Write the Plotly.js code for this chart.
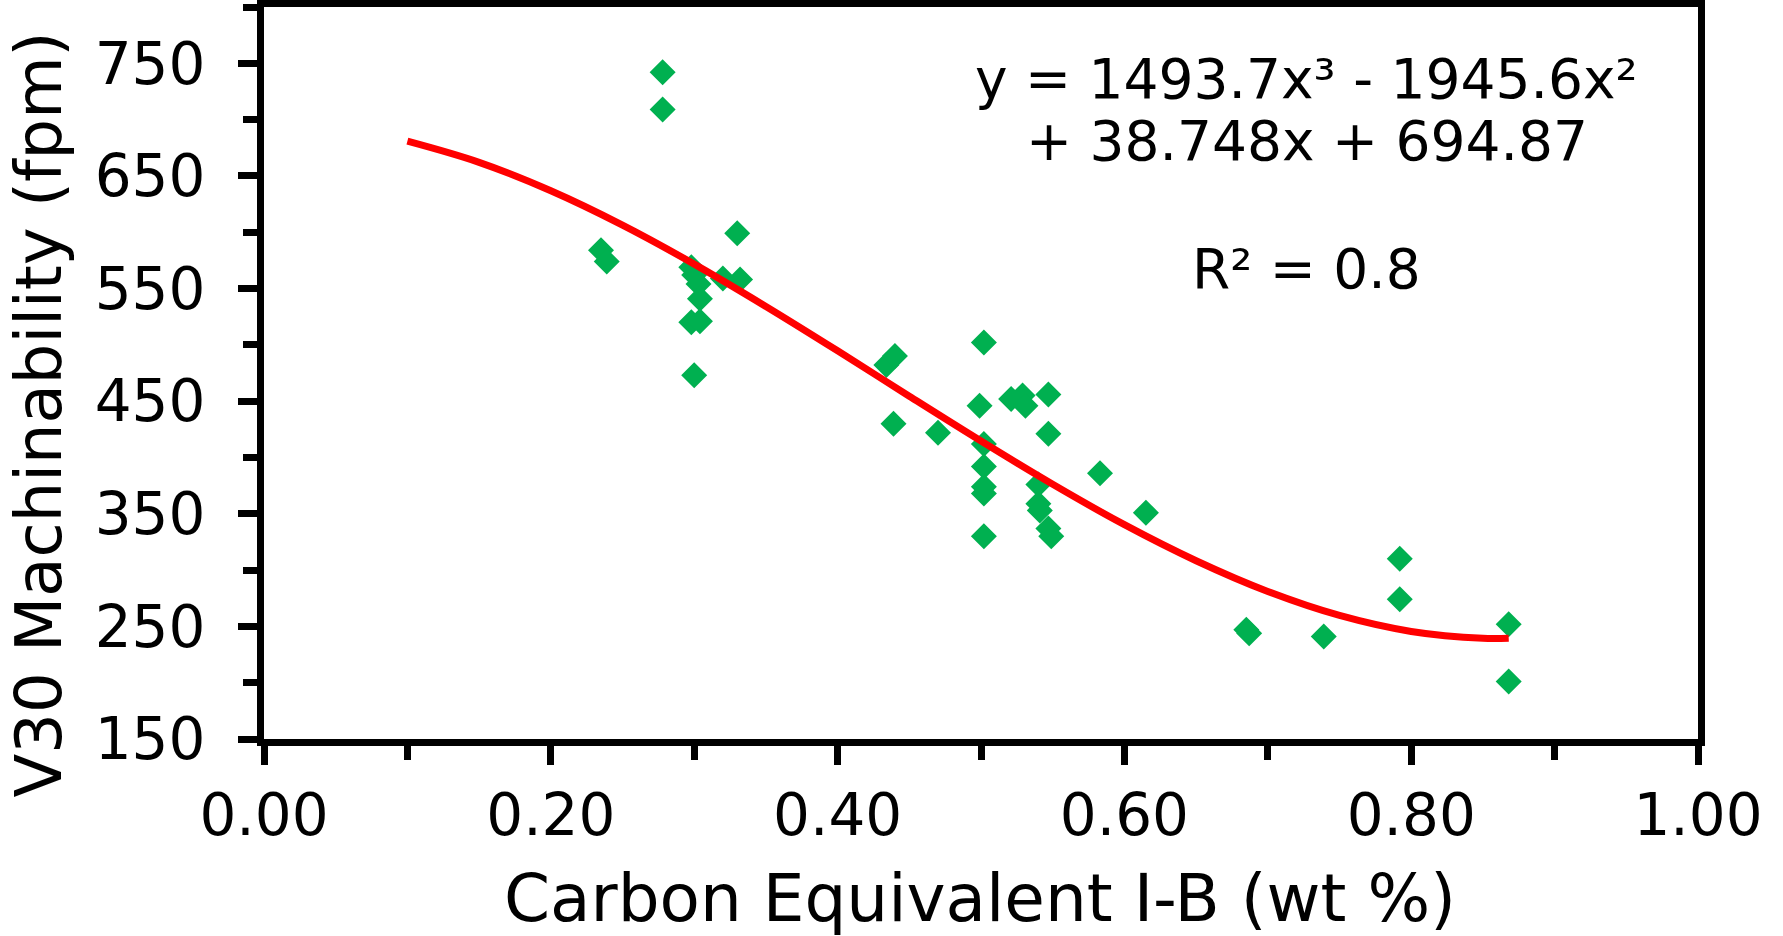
<!DOCTYPE html>
<html>
<head>
<meta charset="utf-8">
<script src="https://cdn.plot.ly/plotly-3.0.1.min.js"></script>
<style>
  html, body { margin: 0; padding: 0; background: #ffffff; }
  #chart { width: 1783px; height: 936px; }
</style>
</head>
<body>
<div id="chart"></div>
<script>
// Measured data points (Carbon Equivalent I-B, V30 machinability)
const ceValues = [0.235, 0.239, 0.278, 0.278, 0.298, 0.300, 0.303, 0.304, 0.298, 0.304,
                  0.300, 0.320, 0.330, 0.332, 0.434, 0.440, 0.439, 0.470, 0.499, 0.502,
                  0.502, 0.502, 0.502, 0.502, 0.502, 0.521, 0.529, 0.531, 0.547, 0.547,
                  0.540, 0.540, 0.541, 0.547, 0.549, 0.583, 0.615, 0.685, 0.687, 0.739,
                  0.792, 0.792, 0.868, 0.868];
const v30Values = [584, 574, 742, 709, 569, 562, 554, 541, 520, 521,
                   473, 559, 599, 558, 482, 490, 430, 422, 446, 502,
                   412, 392, 374, 368, 330, 452, 455, 446, 456, 421,
                   376, 359, 353, 337, 330, 386, 351, 247, 244, 241,
                   310, 274, 252, 201];

// Trend line
const trendX = [0.10, 0.15, 0.20, 0.25, 0.30, 0.35, 0.40, 0.45, 0.50, 0.55,
                0.60, 0.65, 0.70, 0.75, 0.80, 0.85, 0.868];
const trendY = [680.8, 662.0, 636.8, 606.3, 571.7, 534.1, 494.7, 454.4, 414.6, 376.2,
                340.3, 308.3, 281.0, 259.7, 245.5, 239.4, 239.5];

// Labels
const xTitle = "Carbon Equivalent I-B (wt %)";
const yTitle = "V30 Machinability (fpm)";
const eqLine1 = "y = 1493.7x³ - 1945.6x²";
const eqLine2 = "+ 38.748x + 694.87";
const r2Text = "R² = 0.8";

const FONT = "DejaVu Sans, Verdana, sans-serif";

const traces = [
  {
    x: ceValues, y: v30Values,
    type: "scatter", mode: "markers",
    marker: { symbol: "diamond", size: 20, color: "#00B050", line: { width: 0 } },
    showlegend: false, hoverinfo: "x+y"
  },
  {
    x: trendX, y: trendY,
    type: "scatter", mode: "lines",
    line: { color: "#FF0000", width: 7, shape: "spline" },
    showlegend: false, hoverinfo: "skip"
  }
];

const axisCommon = {
  showgrid: false, zeroline: false,
  showline: true, linecolor: "#000000", linewidth: 7, mirror: true,
  ticks: "outside", ticklen: 19, tickwidth: 7, tickcolor: "#000000",
  tickfont: { family: FONT, size: 58, color: "#000000" }
};

const layout = {
  width: 1783, height: 936,
  paper_bgcolor: "#ffffff", plot_bgcolor: "#ffffff",
  margin: { l: 264, r: 85, t: 7, b: 197, pad: 0 },
  font: { family: FONT, color: "#000000" },
  xaxis: Object.assign({}, axisCommon, {
    range: [0, 1], tick0: 0, dtick: 0.2, tickformat: ".2f",
    ticklabelstandoff: 0,
    minor: { dtick: 0.1, ticks: "outside", ticklen: 14, tickwidth: 7, tickcolor: "#000000", showgrid: false }
  }),
  yaxis: Object.assign({}, axisCommon, {
    range: [150, 800], tick0: 150, dtick: 100,
    ticklabelstandoff: 21,
    minor: { tick0: 150, dtick: 50, ticks: "outside", ticklen: 14, tickwidth: 7, tickcolor: "#000000", showgrid: false }
  }),
  annotations: [
    { text: xTitle, xref: "paper", yref: "paper", x: 0.499, y: -0.218,
      xanchor: "center", yanchor: "middle", showarrow: false,
      font: { family: FONT, size: 66, color: "#000000" } },
    { text: yTitle, xref: "paper", yref: "paper", x: -0.157, y: 0.4431,
      xanchor: "center", yanchor: "middle", showarrow: false, textangle: -90,
      font: { family: FONT, size: 64, color: "#000000" } },
    { text: eqLine1, xref: "paper", yref: "paper", x: 0.7273, y: 0.9013,
      xanchor: "center", yanchor: "middle", showarrow: false,
      font: { family: FONT, size: 55, color: "#000000" } },
    { text: eqLine2, xref: "paper", yref: "paper", x: 0.7273, y: 0.8166,
      xanchor: "center", yanchor: "middle", showarrow: false,
      font: { family: FONT, size: 55, color: "#000000" } },
    { text: r2Text, xref: "paper", yref: "paper", x: 0.7273, y: 0.6418,
      xanchor: "center", yanchor: "middle", showarrow: false,
      font: { family: FONT, size: 55, color: "#000000" } }
  ]
};

Plotly.newPlot("chart", traces, layout, { staticPlot: true, displayModeBar: false });
</script>
</body>
</html>
